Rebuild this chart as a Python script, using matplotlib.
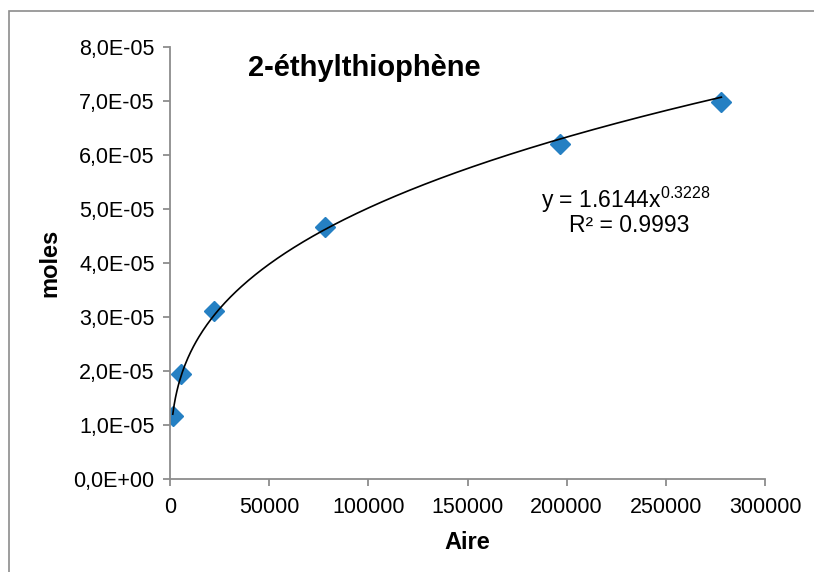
import numpy as np
import matplotlib
matplotlib.use("Agg")
import matplotlib.pyplot as plt
from matplotlib.ticker import FuncFormatter, MultipleLocator
from matplotlib.patches import Rectangle

plt.rcParams['font.family'] = ['Liberation Sans', 'DejaVu Sans']
plt.rcParams['mathtext.fontset'] = 'custom'
plt.rcParams['mathtext.rm'] = 'Liberation Sans'

aire = [1400, 5400, 22200, 78100, 196600, 278000]
moles = [1.16e-5, 1.94e-5, 3.11e-5, 4.66e-5, 6.20e-5, 6.98e-5]
title = "2-éthylthiophène"
eq_text = "y = 1.6144x$^{\\mathrm{0.3228}}$"
r2_text = "R² = 0.9993"

W, H = 814, 572
fig = plt.figure(figsize=(W / 100, H / 100), dpi=100)
ax = fig.add_axes([170 / W, 1 - 479 / H, (765 - 170) / W, (479 - 47) / H])

# power trendline fitted from the data
b, lna = np.polyfit(np.log(aire), np.log(moles), 1)
xs = np.linspace(min(aire), max(aire), 400)
ax.plot(xs, np.exp(lna) * xs ** b, color='black', lw=1.2, zorder=3)
ax.plot(aire, moles, linestyle='none', marker='D', ms=10.5,
        color='#2580C3', mec='#2580C3', zorder=2)

ax.set_xlim(0, 300000)
ax.set_ylim(0, 8e-5)
ax.xaxis.set_major_locator(MultipleLocator(50000))
ax.yaxis.set_major_locator(MultipleLocator(1e-5))
ax.yaxis.set_major_formatter(FuncFormatter(lambda v, p: f"{v:.1E}".replace('.', ',')))
ax.xaxis.set_major_formatter(FuncFormatter(lambda v, p: f"{int(round(v))}"))

for s in ['top', 'right']:
    ax.spines[s].set_visible(False)
for s in ['left', 'bottom']:
    ax.spines[s].set_color('#8c8c8c')
    ax.spines[s].set_linewidth(1.3)
ax.tick_params(axis='both', direction='out', length=5, width=1.3, color='#8c8c8c',
               labelsize=15.5, labelcolor='black')
ax.tick_params(axis='x', pad=8)
ax.tick_params(axis='y', pad=6)

ax.set_xlabel("Aire", fontsize=17, fontweight='bold', labelpad=9)
ax.set_ylabel("moles", fontsize=17, fontweight='bold', labelpad=9)

fig.text(364 / W, 1 - 68 / H, title, fontsize=21, fontweight='bold',
         ha='center', va='center')
fig.text(541 / W, 1 - 200 / H, eq_text, fontsize=16.5, ha='left', va='center')
fig.text(629 / W, 1 - 225 / H, r2_text, fontsize=16.5, ha='center', va='center')

fig.patches.append(Rectangle((9 / W, -0.1), 1.2, 1 - 11 / H + 0.1,
                             transform=fig.transFigure, fill=False,
                             edgecolor='#8c8c8c', lw=1.2))

fig.savefig("out.png", dpi=100)
